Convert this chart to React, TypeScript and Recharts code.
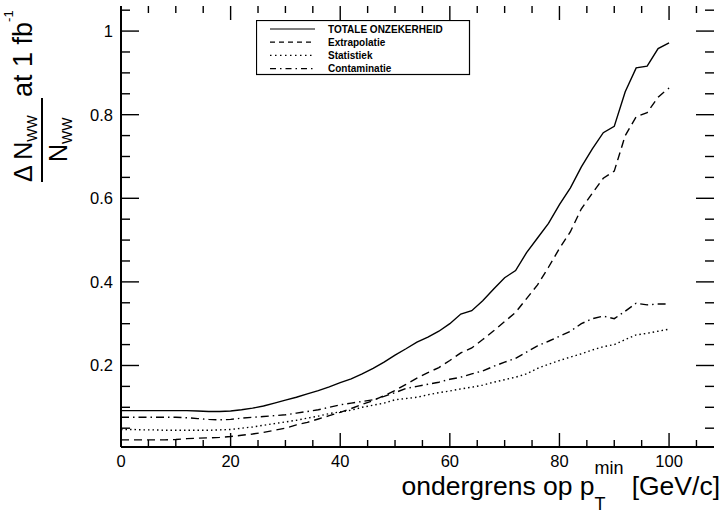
import React from 'react';
import { LineChart, Line, XAxis, YAxis, Legend, Label } from 'recharts';

// lower cut on pT (GeV/c), one point every 2 GeV
const PT_MIN = [
  0, 2, 4, 6, 8, 10, 12, 14, 16, 18, 20, 22, 24, 26, 28, 30, 32, 34, 36, 38, 40, 42, 44, 46, 48, 50,
  52, 54, 56, 58, 60, 62, 64, 66, 68, 70, 72, 74, 76, 78, 80, 82, 84, 86, 88, 90, 92, 94, 96, 98, 100,
];

const TOTAAL = [
  0.092, 0.092, 0.092, 0.092, 0.092, 0.092, 0.092, 0.091, 0.09, 0.09, 0.091, 0.094, 0.098, 0.103, 0.11,
  0.117, 0.124, 0.132, 0.14, 0.149, 0.159, 0.168, 0.18, 0.193, 0.208, 0.225, 0.24, 0.256, 0.268, 0.282,
  0.3, 0.323, 0.331, 0.355, 0.383, 0.41, 0.427, 0.47, 0.505, 0.54, 0.585, 0.625, 0.675, 0.718, 0.757,
  0.772, 0.855, 0.912, 0.916, 0.958, 0.972,
];

const EXTRAPOLATIE = [
  0.022, 0.022, 0.022, 0.022, 0.022, 0.023, 0.025, 0.026, 0.027, 0.028, 0.03, 0.033, 0.036, 0.04, 0.045,
  0.05, 0.058, 0.064, 0.072, 0.08, 0.088, 0.097, 0.107, 0.116, 0.128, 0.14, 0.155, 0.17, 0.183, 0.195,
  0.212, 0.23, 0.242, 0.262, 0.283, 0.305, 0.327, 0.36, 0.393, 0.435, 0.48, 0.52, 0.575, 0.612, 0.648,
  0.665, 0.75, 0.795, 0.805, 0.842, 0.864,
];

const STATISTIEK = [
  0.047, 0.047, 0.046, 0.046, 0.045, 0.045, 0.045, 0.045, 0.045, 0.046, 0.047, 0.05, 0.053, 0.057, 0.061,
  0.065, 0.069, 0.074, 0.079, 0.085, 0.089, 0.093, 0.1, 0.105, 0.11, 0.118, 0.121, 0.124, 0.13, 0.135,
  0.139, 0.144, 0.148, 0.153, 0.16, 0.166, 0.172, 0.18, 0.193, 0.203, 0.212, 0.22, 0.228, 0.237, 0.245,
  0.25, 0.262, 0.273, 0.277, 0.282, 0.287,
];

const CONTAMINATIE = [
  0.076, 0.076, 0.076, 0.076, 0.076, 0.076, 0.075, 0.073, 0.071, 0.07, 0.071, 0.074, 0.076, 0.078, 0.08,
  0.082, 0.086, 0.09, 0.094, 0.1, 0.106, 0.11, 0.114, 0.118, 0.126, 0.135, 0.145, 0.15, 0.155, 0.16,
  0.167, 0.172, 0.18, 0.187, 0.198, 0.208, 0.217, 0.232, 0.247, 0.258, 0.27, 0.282, 0.3, 0.312, 0.318,
  0.312, 0.33, 0.349, 0.345, 0.347, 0.347,
];

const SERIES = [
  { key: 'totaal', name: 'TOTALE ONZEKERHEID', dash: undefined, legendDash: undefined },
  { key: 'extrapolatie', name: 'Extrapolatie', dash: '8 5', legendDash: '5 4' },
  { key: 'statistiek', name: 'Statistiek', dash: '1.5 3', legendDash: '1.5 3.5' },
  { key: 'contaminatie', name: 'Contaminatie', dash: '8 4 1.5 4', legendDash: '6 4 1.5 4' },
];

const X_MAJOR = [0, 20, 40, 60, 80, 100];
const X_TICKS = [0, 5, 10, 15, 20, 25, 30, 35, 40, 45, 50, 55, 60, 65, 70, 75, 80, 85, 90, 95, 100, 105];
const Y_MAJOR = [0.2, 0.4, 0.6, 0.8, 1];
const Y_TICKS = [
  0.05, 0.1, 0.15, 0.2, 0.25, 0.3, 0.35, 0.4, 0.45, 0.5, 0.55, 0.6, 0.65, 0.7, 0.75, 0.8, 0.85, 0.9,
  0.95, 1, 1.05,
];

const X_DOMAIN = [0, 108.2];
const Y_DOMAIN = [0.005, 1.06];

// chart geometry (shared by the chart and the tick overlay)
const W = 723;
const H = 516;
const MARGIN = { top: 6, right: 9, bottom: 0, left: 0 };
const Y_AXIS_W = 121;
const X_AXIS_H = 69;
const PLOT = {
  left: MARGIN.left + Y_AXIS_W,
  right: W - MARGIN.right,
  top: MARGIN.top,
  bottom: H - MARGIN.bottom - X_AXIS_H,
};

const FONT = '"Liberation Sans", Arial, Helvetica, sans-serif';

const rows = PT_MIN.map((pt, i) => ({
  pt,
  totaal: TOTAAL[i],
  extrapolatie: EXTRAPOLATIE[i],
  statistiek: STATISTIEK[i],
  contaminatie: CONTAMINATIE[i],
}));

const isMajor = (list: number[], v: number) => list.some((m) => Math.abs(m - v) < 1e-6);
const xPx = (v: number) => PLOT.left + ((v - X_DOMAIN[0]) / (X_DOMAIN[1] - X_DOMAIN[0])) * (PLOT.right - PLOT.left);
const yPx = (v: number) => PLOT.bottom - ((v - Y_DOMAIN[0]) / (Y_DOMAIN[1] - Y_DOMAIN[0])) * (PLOT.bottom - PLOT.top);

// ROOT-style ticks pointing into the frame on all four sides
const FrameTicks = () => (
  <svg
    width={W}
    height={H}
    style={{ position: 'absolute', left: 0, top: 0, pointerEvents: 'none', zIndex: 5 }}
  >
    {X_TICKS.map((v) => {
      const x = xPx(v);
      const len = isMajor(X_MAJOR, v) ? 14 : 7;
      return (
        <g key={`x${v}`} stroke="#000" strokeWidth={1.4}>
          <line x1={x} x2={x} y1={PLOT.bottom} y2={PLOT.bottom - len} />
          <line x1={x} x2={x} y1={PLOT.top} y2={PLOT.top + len} />
        </g>
      );
    })}
    {Y_TICKS.map((v) => {
      const y = yPx(v);
      const len = isMajor(Y_MAJOR, v) ? 18 : 9;
      return (
        <g key={`y${v}`} stroke="#000" strokeWidth={1.4}>
          <line x1={PLOT.left} x2={PLOT.left + len} y1={y} y2={y} />
          <line x1={PLOT.right} x2={PLOT.right - len} y1={y} y2={y} />
        </g>
      );
    })}
  </svg>
);

const XLabel = (props: any) => (
  <text x={props.x} y={props.y + 20} textAnchor="middle" fontSize={16.5} fontFamily={FONT} fill="#000">
    {props.payload.value}
  </text>
);

const YLabel = (props: any) => (
  <text x={props.x - 8} y={props.y + 6} textAnchor="end" fontSize={16.5} fontFamily={FONT} fill="#000">
    {props.payload.value}
  </text>
);

const XTitle = (props: any) => {
  const { x, y, width } = props.viewBox;
  return (
    <text x={x + width + 6} y={y + 48} textAnchor="end" fontSize={26.5} fontFamily={FONT} fill="#000">
      ondergrens op p
      <tspan fontSize={18} dy={15}>T</tspan>
      <tspan fontSize={18} dx={-11} dy={-36}>min</tspan>
      <tspan fontSize={26.5} dx={8} dy={21}>[GeV/c]</tspan>
    </text>
  );
};

const YTitle = () => (
  <g transform="rotate(-90)" fontFamily={FONT} fill="#000">
    <text x={-182} y={32} fontSize={25}>
      Δ N<tspan fontSize={14} dy={5}>WW</tspan>
    </text>
    <line x1={-182} x2={-98} y1={42} y2={42} stroke="#000" strokeWidth={2} />
    <text x={-162} y={67} fontSize={25}>
      N<tspan fontSize={14} dy={5}>WW</tspan>
    </text>
    <text x={-97} y={32} fontSize={27}>
      at 1 fb<tspan fontSize={13} dy={-19}>-1</tspan>
    </text>
  </g>
);

const renderLegend = (props: any) => {
  const order = SERIES.map((s) => s.key);
  const items = [...(props.payload || [])]
    .filter((e: any) => order.includes(e.dataKey))
    .sort((a: any, b: any) => order.indexOf(a.dataKey) - order.indexOf(b.dataKey));
  return (
    <svg width={215} height={56} style={{ display: 'block' }}>
      <rect x={0.5} y={0.5} width={213} height={54} fill="#fff" stroke="#000" strokeWidth={1.2} />
      {items.map((entry: any, i: number) => {
        const s = SERIES.find((d) => d.key === entry.dataKey);
        const cy = 9 + i * 13.2;
        return (
          <g key={entry.dataKey}>
            <line x1={14} x2={59} y1={cy} y2={cy} stroke="#000" strokeWidth={1.2} strokeDasharray={s?.legendDash} />
            <text x={72} y={cy + 3.6} fontSize={10} fontWeight="bold" fontFamily={FONT} fill="#000">
              {entry.value}
            </text>
          </g>
        );
      })}
    </svg>
  );
};

const frameX = {
  dataKey: 'pt',
  type: 'number' as const,
  domain: X_DOMAIN,
  allowDataOverflow: true,
  interval: 0,
  tickSize: 0,
  tickMargin: 0,
  tickLine: false,
  axisLine: { stroke: '#000', strokeWidth: 2 },
};
const frameY = {
  type: 'number' as const,
  domain: Y_DOMAIN,
  allowDataOverflow: true,
  interval: 0,
  tickSize: 0,
  tickMargin: 0,
  tickLine: false,
  axisLine: { stroke: '#000', strokeWidth: 2 },
};

export default function App() {
  return (
    <div style={{ position: 'absolute', left: 0, top: 0, width: W, height: H, background: '#fff' }}>
      <LineChart width={W} height={H} data={rows} margin={MARGIN}>
        <XAxis {...frameX} xAxisId="b" height={X_AXIS_H} ticks={X_MAJOR} tick={XLabel}>
          <Label content={XTitle} />
        </XAxis>
        <XAxis {...frameX} xAxisId="t" orientation="top" height={0} ticks={X_MAJOR} tick={false} />
        <YAxis {...frameY} yAxisId="l" width={Y_AXIS_W} ticks={Y_MAJOR} tick={YLabel}>
          <Label content={YTitle} />
        </YAxis>
        <YAxis {...frameY} yAxisId="r" orientation="right" width={0} ticks={Y_MAJOR} tick={false} />
        {SERIES.map((s) => (
          <Line
            key={s.key}
            xAxisId="b"
            yAxisId="l"
            type="linear"
            dataKey={s.key}
            name={s.name}
            stroke="#000"
            strokeWidth={1.4}
            strokeDasharray={s.dash}
            dot={false}
            activeDot={false}
            isAnimationActive={false}
          />
        ))}
        <Legend
          layout="horizontal"
          verticalAlign="middle"
          align="center"
          content={renderLegend}
          wrapperStyle={{ position: 'absolute', left: 256, top: 20, width: 215, height: 56 }}
        />
      </LineChart>
      <FrameTicks />
    </div>
  );
}
